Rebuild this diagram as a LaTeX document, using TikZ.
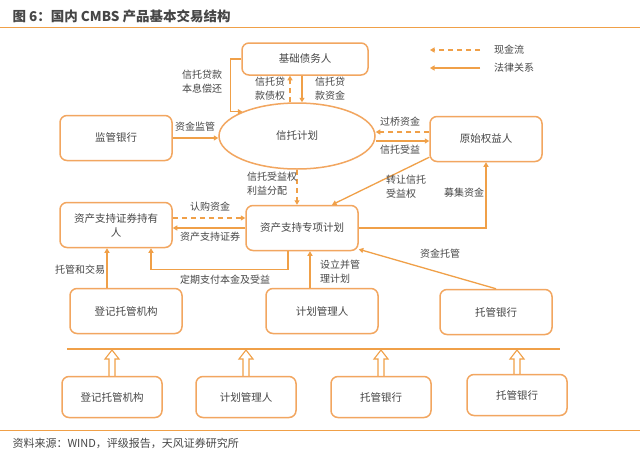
\documentclass[tikz,border=0pt]{standalone}
\usepackage{fontspec}
\setmainfont{Noto Sans CJK SC}
\usetikzlibrary{shapes.geometric,arrows.meta}

\definecolor{orng}{RGB}{240,160,72}
\definecolor{boxorng}{RGB}{242,166,96}
\definecolor{txtgray}{RGB}{70,70,70}

\tikzset{
  box/.style={draw=boxorng, line width=1.5pt, rounded corners=7pt, fill=white,
    minimum width=112pt, minimum height=45pt, inner sep=2pt, text=txtgray,
    font=\fontsize{10.5}{14}\selectfont, align=center},
  smallbox/.style={box, minimum width=100pt, minimum height=41pt},
  legal/.style={draw=orng, line width=1.3pt, -{Triangle[length=4.5pt,width=5pt]}},
  cash/.style={legal, dash pattern=on 5pt off 4pt},
  hollow/.style={draw=orng, line width=1.1pt, line join=miter},
  lbl/.style={text=txtgray, font=\fontsize{10}{14}\selectfont, align=left, inner sep=1pt}
}

\begin{document}
\begin{tikzpicture}[x=1pt, y=-1pt]
  \useasboundingbox[fill=white] (0,0) rectangle (640,453);

  % 标题
  \node[anchor=west, text=txtgray, font=\fontsize{13.5}{15}\selectfont\bfseries] (title) at (9,16) {图 6：国内 CMBS 产品基本交易结构};
  \draw[orng, line width=1pt] (0,27) -- (640,27);

  % 图例
  \coordinate (lgcash) at (480,50);
  \coordinate (lglegal) at (480,68);
  \draw[cash] (lgcash) -- ++(-50,0);
  \draw[legal] (lglegal) -- ++(-50,0);
  \node[lbl, anchor=west] (lgcashtxt) at (493,50) {现金流};
  \node[lbl, anchor=west] (lglegaltxt) at (493,68) {法律关系};

  % 上部结构
  \node[box, minimum width=126pt, minimum height=32pt] (obligor) at (305,59) {基础债务人};
  \node[draw=boxorng, line width=1.5pt, ellipse, fill=white, minimum width=156pt,
    minimum height=66pt, inner sep=0pt, text=txtgray, font=\fontsize{10.5}{14}\selectfont] (trust) at (297,136) {信托计划};
  \node[box] (supbank) at (116,138) {监管银行};
  \node[box] (originator) at (486,139) {原始权益人};
  \node[box] (abs) at (302,228) {资产支持专项计划};
  \node[box] (holder) at (116,225) {资产支持证券持有\\人};
  \node[box] (registrar) at (126,311) {登记托管机构};
  \node[box] (manager) at (322,311) {计划管理人};
  \node[box] (custbank) at (496,312) {托管银行};

  % 连线
  \draw[legal] (obligor.west) -- ++(-11,0) |- (trust.156);
  \draw[cash] ([xshift=-7pt]trust.north) -- ([xshift=-7pt]trust.north |- obligor.south);
  \draw[legal] ([xshift=-3pt]obligor.south) -- ([xshift=-3pt]obligor.south |- trust.north);
  \draw[legal] (supbank.east) -- (supbank.east -| trust.west);
  \draw[cash] ([yshift=7pt]originator.west) -- ([yshift=7pt]originator.west -| trust.east);
  \draw[legal] ([yshift=-2pt]originator.west -| trust.east) -- ([yshift=-2pt]originator.west);
  \draw[cash] (trust.south) -- (trust.south |- abs.north);
  \draw[legal] ([yshift=5pt]originator.south west) -- ([xshift=30pt]abs.north);
  \draw[legal] (abs.east) -| (originator.south);
  \draw[cash] ([yshift=7pt]holder.east) -- ([yshift=7pt]holder.east -| abs.west);
  \draw[legal] (abs.west) -- (abs.west -| holder.east);
  \draw[legal] ([xshift=-14pt]abs.south) -- ++(0,18) -| ([xshift=35pt]holder.south);
  \draw[legal] ([xshift=-12pt]manager.north) -- ([xshift=-12pt]manager.north |- abs.south);
  \draw[legal] (custbank.north) -- ([yshift=2pt]abs.south east);
  \draw[legal] ([xshift=-19pt]registrar.north) -- ([xshift=-19pt]registrar.north |- holder.south);

  % 连线标注
  \node[lbl] (l1) at (202,82) {信托贷款\\本息偿还};
  \node[lbl] (l2) at (270,89) {信托贷\\款债权};
  \node[lbl] (l3) at (330,89) {信托贷\\款资金};
  \node[lbl] (l4) at (195,127) {资金监管};
  \node[lbl] (l5) at (400,122) {过桥资金};
  \node[lbl] (l6) at (400,150) {信托受益};
  \node[lbl] (l7) at (272,184) {信托受益权\\利益分配};
  \node[lbl] (l8) at (406,187) {转让信托\\受益权};
  \node[lbl] (l9) at (464,193) {募集资金};
  \node[lbl] (l10) at (210,207) {认购资金};
  \node[lbl] (l11) at (210,237) {资产支持证券};
  \node[lbl] (l12) at (225,280) {定期支付本金及受益};
  \node[lbl] (l13) at (340,272) {设立并管\\理计划};
  \node[lbl] (l14) at (440,254) {资金托管};
  \node[lbl] (l15) at (80,270) {托管和交易};

  % 底部参与机构
  \coordinate (barL) at (67,349);
  \coordinate (barR) at (560,349);
  \draw[orng, line width=1.3pt] (barL) -- (barR);
  \node[smallbox] (regB) at (112,397) {登记托管机构};
  \node[smallbox] (mgrB) at (246,397) {计划管理人};
  \node[smallbox] (bankA) at (381,397) {托管银行};
  \node[smallbox] (bankB) at (517,395) {托管银行};
  \foreach \n in {regB, mgrB, bankA, bankB}
    \draw[hollow] ([xshift=-3pt]\n.north)
      -- ([xshift=-3pt, yshift=-10pt]\n.north |- barL)
      -- ([xshift=-7pt, yshift=-10pt]\n.north |- barL)
      -- ([yshift=-1pt]\n.north |- barL)
      -- ([xshift=7pt, yshift=-10pt]\n.north |- barL)
      -- ([xshift=3pt, yshift=-10pt]\n.north |- barL)
      -- ([xshift=3pt]\n.north);

  % 资料来源
  \draw[orng, line width=1pt] (0,430) -- (640,430);
  \node[anchor=west, text=txtgray, font=\fontsize{11}{13}\selectfont] (source) at (9,443) {资料来源：WIND，评级报告，天风证券研究所};
\end{tikzpicture}
\end{document}
